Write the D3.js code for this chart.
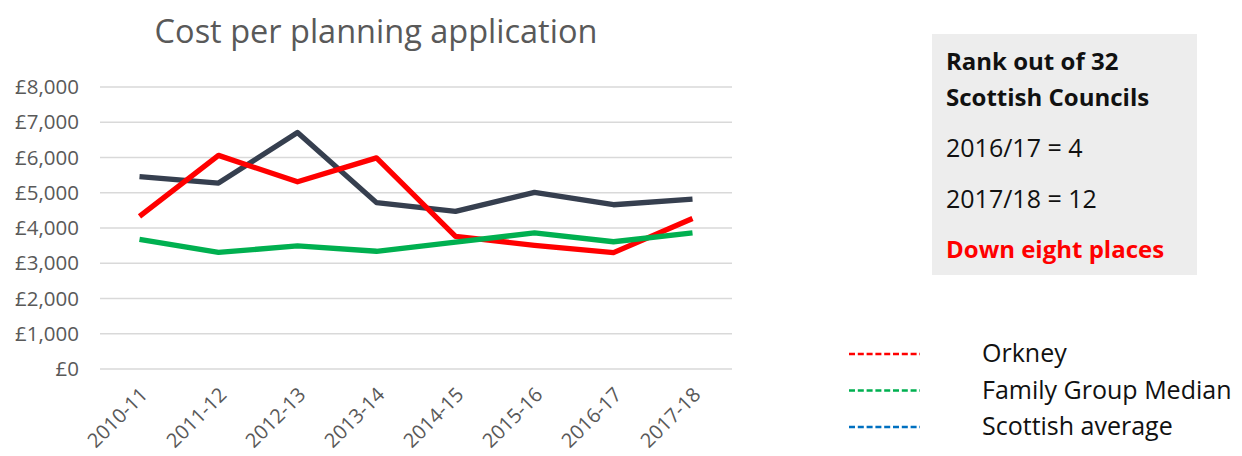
<!DOCTYPE html>
<html>
<head>
<meta charset="utf-8">
<script src="https://cdn.jsdelivr.net/npm/d3@7"></script>
<style>
  body { margin: 0; background: #fff; font-family: "Open Sans", sans-serif; }
</style>
</head>
<body>
<div id="chart"></div>
<script>
// data
const years = ["2010-11", "2011-12", "2012-13", "2013-14", "2014-15", "2015-16", "2016-17", "2017-18"];
const orkney = [4330, 6060, 5310, 5990, 3760, 3510, 3300, 4270];
const familyMedian = [3680, 3310, 3490, 3340, 3600, 3860, 3610, 3860];
const scottishAvg = [5460, 5275, 6710, 4720, 4470, 5010, 4660, 4820];
const yTicks = [0, 1000, 2000, 3000, 4000, 5000, 6000, 7000, 8000];
const legendNames = ["Orkney", "Family Group Median", "Scottish average"];
const legendColors = ["#ff0000", "#00b050", "#0070c0"];
const rankLines = ["Rank out of 32", "Scottish Councils", "2016/17 = 4", "2017/18 = 12", "Down eight places"];

const W = 1242, H = 456;
const svg = d3.select("#chart").append("svg")
    .attr("width", W)
    .attr("height", H);

// scales
const x = d3.scalePoint()
    .domain(years)
    .range([100, 732])
    .padding(0.5);

const y = d3.scaleLinear()
    .domain([0, 8000])
    .range([369, 87]);

// title
svg.append("text")
    .attr("x", 376)
    .attr("y", 43)
    .attr("text-anchor", "middle")
    .style("font-size", "32.5px")
    .style("fill", "#595959")
    .text("Cost per planning application");

// gridlines
svg.append("g")
    .selectAll("line")
    .data(yTicks)
    .enter()
    .append("line")
    .attr("x1", 100)
    .attr("x2", 732)
    .attr("y1", d => y(d))
    .attr("y2", d => y(d))
    .style("stroke", "#d9d9d9")
    .style("stroke-width", 1.3);

// y axis
const yAxis = svg.append("g")
    .attr("transform", "translate(87,0)")
    .call(d3.axisLeft(y).tickValues(yTicks).tickSize(0).tickPadding(8)
        .tickFormat(d => "£" + d3.format(",")(d)));
yAxis.select(".domain").remove();
yAxis.selectAll("text")
    .style("font-family", "'Open Sans', sans-serif")
    .style("font-size", "20.5px")
    .style("fill", "#595959");

// x axis
const xAxis = svg.append("g")
    .attr("transform", "translate(0,369)")
    .call(d3.axisBottom(x).tickSize(0));
xAxis.select(".domain").remove();
xAxis.selectAll("text")
    .style("font-family", "'Open Sans', sans-serif")
    .style("font-size", "20px")
    .style("fill", "#595959")
    .attr("text-anchor", "end")
    .attr("y", 0)
    .attr("dy", "0.35em")
    .attr("transform", "translate(4,22) rotate(-45)");

// lines
const line = d3.line()
    .x((d, i) => x(years[i]))
    .y(d => y(d));

const series = [
    { name: "Scottish average", values: scottishAvg, color: "#363f4f" },
    { name: "Orkney", values: orkney, color: "#ff0000" },
    { name: "Family Group Median", values: familyMedian, color: "#00b050" }
];

svg.selectAll("path.data-line")
    .data(series)
    .enter()
    .append("path")
    .attr("class", "data-line")
    .attr("d", d => line(d.values))
    .style("fill", "none")
    .style("stroke", d => d.color)
    .style("stroke-width", 5.3)
    .style("stroke-linejoin", "round");

// rank box
svg.append("rect")
    .attr("x", 932)
    .attr("y", 34)
    .attr("width", 265)
    .attr("height", 241)
    .style("fill", "#ededed");

const rankY = [70, 106, 157, 208, 258];
const rankSize = [24, 24, 25, 25, 24];
svg.selectAll("text.rank")
    .data(rankLines)
    .enter()
    .append("text")
    .attr("class", "rank")
    .attr("x", 946)
    .attr("y", (d, i) => rankY[i])
    .style("font-size", (d, i) => rankSize[i] + "px")
    .style("font-weight", (d, i) => (i < 2 || i == 4) ? "bold" : "normal")
    .style("fill", (d, i) => i == 4 ? "#ff0000" : "#111")
    .text(d => d);

// legend
const legend = svg.selectAll(".legend")
    .data(legendNames)
    .enter()
    .append("g")
    .attr("class", "legend")
    .attr("transform", (d, i) => `translate(849, ${354 + i * 36.5})`);

legend.append("line")
    .attr("x1", 0)
    .attr("x2", 71)
    .style("stroke", (d, i) => legendColors[i])
    .style("stroke-width", 2.5)
    .style("stroke-dasharray", "6,2.8");

legend.append("text")
    .attr("x", 133)
    .attr("y", 8)
    .style("font-size", "25px")
    .style("fill", "#111")
    .text(d => d);
</script>
</body>
</html>
